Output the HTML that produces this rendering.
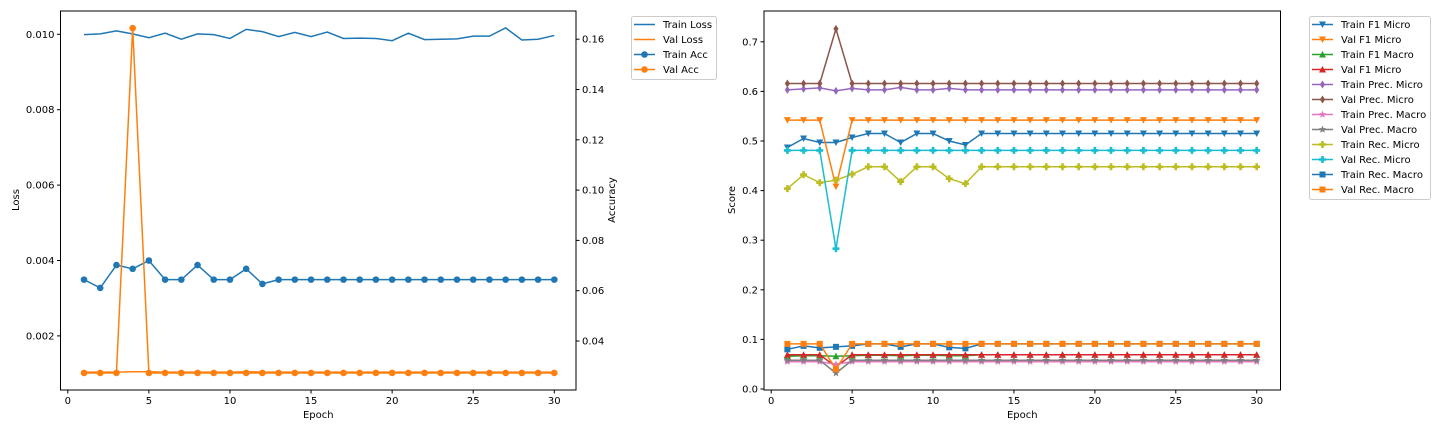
<!DOCTYPE html>
<html><head><meta charset="utf-8"><style>
html,body{margin:0;padding:0;background:#fff;}
svg{display:block;font-family:"DejaVu Sans","Liberation Sans",sans-serif;}
</style></head><body>
<svg id="c" width="1440" height="432" viewBox="0 0 1440 432" xmlns="http://www.w3.org/2000/svg"></svg>
<script>
const epochs=[1,2,3,4,5,6,7,8,9,10,11,12,13,14,15,16,17,18,19,20,21,22,23,24,25,26,27,28,29,30];
const trainLoss=[0.00999,0.01001,0.01009,0.01001,0.00991,0.01003,0.00987,0.01001,0.00999,0.00989,0.01013,0.01007,0.00994,0.01005,0.00994,0.01006,0.00989,0.0099,0.00989,0.00983,0.01003,0.00986,0.00987,0.00988,0.00995,0.00995,0.01017,0.00985,0.00987,0.00997];
const valLoss=[0.00104,0.00104,0.00104,0.00105,0.00105,0.00104,0.00104,0.00104,0.00104,0.00104,0.00105,0.00104,0.00104,0.00104,0.00104,0.00104,0.00104,0.00104,0.00104,0.00104,0.00104,0.00104,0.00104,0.00104,0.00104,0.00104,0.00104,0.00104,0.00104,0.00104];
const trainAcc=[0.0644,0.0611,0.0702,0.0687,0.072,0.0644,0.0644,0.0702,0.0644,0.0644,0.0687,0.0627,0.0644,0.0644,0.0644,0.0644,0.0644,0.0644,0.0644,0.0644,0.0644,0.0644,0.0644,0.0644,0.0644,0.0644,0.0644,0.0644,0.0644,0.0644];
const valAcc=[0.0273,0.0273,0.0273,0.1644,0.0273,0.0273,0.0273,0.0273,0.0273,0.0273,0.0273,0.0273,0.0273,0.0273,0.0273,0.0273,0.0273,0.0273,0.0273,0.0273,0.0273,0.0273,0.0273,0.0273,0.0273,0.0273,0.0273,0.0273,0.0273,0.0273];
const xTicks=[0,5,10,15,20,25,30];
const lossTicks=[0.002,0.004,0.006,0.008,0.010];
const accTicks=[0.04,0.06,0.08,0.10,0.12,0.14,0.16];
const scoreTicks=[0.0,0.1,0.2,0.3,0.4,0.5,0.6,0.7];
function rep(v,n,over){const a=[];for(let i=0;i<n;i++)a.push(v);for(const k in over)a[k-1]=over[k];return a;}
const trainF1Micro=[0.487,0.505,0.497,0.497,0.507,0.515,0.515,0.497,0.515,0.515,0.500,0.492,0.515,0.515,0.515,0.515,0.515,0.515,0.515,0.515,0.515,0.515,0.515,0.515,0.515,0.515,0.515,0.515,0.515,0.515];
const valF1Micro=[0.542,0.542,0.542,0.408,0.542,0.542,0.542,0.542,0.542,0.542,0.542,0.542,0.542,0.542,0.542,0.542,0.542,0.542,0.542,0.542,0.542,0.542,0.542,0.542,0.542,0.542,0.542,0.542,0.542,0.542];
const trainF1Macro=[0.066,0.067,0.067,0.066,0.067,0.068,0.068,0.067,0.068,0.068,0.067,0.067,0.069,0.069,0.069,0.069,0.069,0.069,0.069,0.069,0.069,0.069,0.069,0.069,0.069,0.069,0.069,0.069,0.069,0.069];
const valF1MicroB=[0.069,0.069,0.069,0.045,0.069,0.069,0.069,0.069,0.069,0.069,0.069,0.069,0.069,0.069,0.069,0.069,0.069,0.069,0.069,0.069,0.069,0.069,0.069,0.069,0.069,0.069,0.069,0.069,0.069,0.069];
const trainPrecMicro=[0.603,0.605,0.607,0.601,0.606,0.603,0.603,0.608,0.603,0.603,0.606,0.603,0.603,0.603,0.603,0.603,0.603,0.603,0.603,0.603,0.603,0.603,0.603,0.603,0.603,0.603,0.603,0.603,0.603,0.603];
const valPrecMicro=[0.616,0.616,0.616,0.726,0.616,0.616,0.616,0.616,0.616,0.616,0.616,0.616,0.616,0.616,0.616,0.616,0.616,0.616,0.616,0.616,0.616,0.616,0.616,0.616,0.616,0.616,0.616,0.616,0.616,0.616];
const trainPrecMacro=[0.055,0.055,0.055,0.050,0.055,0.055,0.055,0.055,0.055,0.055,0.055,0.055,0.055,0.055,0.055,0.055,0.055,0.055,0.055,0.055,0.055,0.055,0.055,0.055,0.055,0.055,0.055,0.055,0.055,0.055];
const valPrecMacro=[0.058,0.058,0.058,0.032,0.058,0.058,0.058,0.058,0.058,0.058,0.058,0.058,0.058,0.058,0.058,0.058,0.058,0.058,0.058,0.058,0.058,0.058,0.058,0.058,0.058,0.058,0.058,0.058,0.058,0.058];
const trainRecMicro=[0.404,0.432,0.416,0.421,0.433,0.448,0.448,0.418,0.448,0.448,0.424,0.414,0.448,0.448,0.448,0.448,0.448,0.448,0.448,0.448,0.448,0.448,0.448,0.448,0.448,0.448,0.448,0.448,0.448,0.448];
const valRecMicro=[0.481,0.481,0.481,0.283,0.481,0.481,0.481,0.481,0.481,0.481,0.481,0.481,0.481,0.481,0.481,0.481,0.481,0.481,0.481,0.481,0.481,0.481,0.481,0.481,0.481,0.481,0.481,0.481,0.481,0.481];
const trainRecMacro=[0.080,0.087,0.083,0.085,0.087,0.091,0.091,0.085,0.091,0.091,0.084,0.082,0.091,0.091,0.091,0.091,0.091,0.091,0.091,0.091,0.091,0.091,0.091,0.091,0.091,0.091,0.091,0.091,0.091,0.091];
const valRecMacro=[0.091,0.091,0.091,0.040,0.091,0.091,0.091,0.091,0.091,0.091,0.091,0.091,0.091,0.091,0.091,0.091,0.091,0.091,0.091,0.091,0.091,0.091,0.091,0.091,0.091,0.091,0.091,0.091,0.091,0.091];
const seriesNames=["Train F1 Micro","Val F1 Micro","Train F1 Macro","Val F1 Micro","Train Prec. Micro","Val Prec. Micro","Train Prec. Macro","Val Prec. Macro","Train Rec. Micro","Val Rec. Micro","Train Rec. Macro","Val Rec. Macro"];
const seriesData=[trainF1Micro,valF1Micro,trainF1Macro,valF1MicroB,trainPrecMicro,valPrecMicro,trainPrecMacro,valPrecMacro,trainRecMicro,valRecMicro,trainRecMacro,valRecMacro];

const NS="http://www.w3.org/2000/svg";
const svg=document.getElementById('c');
function mk(tag,attrs,parent){const e=document.createElementNS(NS,tag);for(const k in attrs)e.setAttribute(k,attrs[k]);(parent||svg).appendChild(e);return e;}
function txt(s,attrs,parent){const e=mk('text',attrs,parent);e.textContent=s;return e;}

const colors=["#1f77b4","#ff7f0e","#2ca02c","#d62728","#9467bd","#8c564b","#e377c2","#7f7f7f","#bcbd22","#17becf","#1f77b4","#ff7f0e"];
const markers=["v","v","^","^","d","d","*","*","P","P","s","s"];

function marker(g,type,x,y,c){
  let e;
  const r=3.5;
  if(type==='o') e=mk('circle',{cx:x,cy:y,r:3.3,fill:c},g);
  else if(type==='v') e=mk('polygon',{points:`${x-r},${y-r+0.5} ${x+r},${y-r+0.5} ${x},${y+r}`,fill:c},g);
  else if(type==='^') e=mk('polygon',{points:`${x-r},${y+r-0.5} ${x+r},${y+r-0.5} ${x},${y-r}`,fill:c},g);
  else if(type==='d') e=mk('polygon',{points:`${x},${y-4} ${x+2.6},${y} ${x},${y+4} ${x-2.6},${y}`,fill:c},g);
  else if(type==='s') e=mk('rect',{x:x-3,y:y-3,width:6,height:6,fill:c},g);
  else if(type==='P') e=mk('path',{d:`M${x-1.3},${y-3.5}h2.6v2.2h2.2v2.6h-2.2v2.2h-2.6v-2.2h-2.2v-2.6h2.2z`,fill:c},g);
  else if(type==='*'){let p='';for(let i=0;i<10;i++){const a=-Math.PI/2+i*Math.PI/5;const rr=i%2?1.7:4;p+=(x+rr*Math.cos(a)).toFixed(2)+','+(y+rr*Math.sin(a)).toFixed(2)+' ';}e=mk('polygon',{points:p,fill:c},g);}
  
  
  return e;
}

/* LEFT CHART */
const L={x0:60.5,x1:576,y0:11,y1:390};
const lx=v=>67.8+(v)*(554.3-67.8)/30;
const ly=v=>34.3+(0.010-v)*37700;
const ry=v=>341+(0.04-v)*(50.3/0.02);
const gL=mk('g',{},svg);
function linePath(xs,ys,fx,fy){return xs.map((x,i)=>(i?'L':'M')+fx(x).toFixed(2)+','+fy(ys[i]).toFixed(2)).join('');}
let p;
p=mk('path',{d:linePath(epochs,trainLoss,lx,ly),fill:'none',stroke:'#1f77b4','stroke-width':1.5},gL);
p=mk('path',{d:linePath(epochs,valLoss,lx,ly),fill:'none',stroke:'#ff7f0e','stroke-width':1.5},gL);
p=mk('path',{d:linePath(epochs,trainAcc,lx,ry),fill:'none',stroke:'#1f77b4','stroke-width':1.5},gL);
epochs.forEach((e,i)=>marker(gL,'o',lx(e),ry(trainAcc[i]),'#1f77b4'));
p=mk('path',{d:linePath(epochs,valAcc,lx,ry),fill:'none',stroke:'#ff7f0e','stroke-width':1.5},gL);
epochs.forEach((e,i)=>marker(gL,'o',lx(e),ry(valAcc[i]),'#ff7f0e'));
mk('rect',{x:L.x0,y:L.y0,width:L.x1-L.x0,height:L.y1-L.y0,fill:'none',stroke:'#000','stroke-width':1},gL);
xTicks.forEach(t=>{const x=lx(t);mk('line',{x1:x,y1:L.y1,x2:x,y2:L.y1+3.5,stroke:'#000'},gL);const e=txt(String(t),{x:x,y:L.y1+14,'font-size':10,'text-anchor':'middle'},gL);});
lossTicks.forEach(t=>{const y=ly(t);mk('line',{x1:L.x0,y1:y,x2:L.x0-3.5,y2:y,stroke:'#000'},gL);const e=txt(t.toFixed(3),{x:L.x0-6,y:y+3.5,'font-size':10,'text-anchor':'end'},gL);});
accTicks.forEach(t=>{const y=ry(t);mk('line',{x1:L.x1,y1:y,x2:L.x1+3.5,y2:y,stroke:'#000'},gL);const e=txt(t.toFixed(2),{x:L.x1+6,y:y+3.5,'font-size':10},gL);});
let t;
t=txt('Epoch',{x:(L.x0+L.x1)/2,y:418,'font-size':10,'text-anchor':'middle'},gL);
t=txt('Loss',{x:19,y:200,'font-size':10,'text-anchor':'middle',transform:'rotate(-90 19 200)'},gL);
t=txt('Accuracy',{x:615,y:200,'font-size':10,'text-anchor':'middle',transform:'rotate(-90 615 200)'},gL);
// left legend
const lg=mk('g',{},gL);
mk('rect',{x:631.5,y:16.5,width:85,height:63,rx:2,fill:'#fff',stroke:'#ccc'},lg);
const lgItems=[['Train Loss','#1f77b4',null],['Val Loss','#ff7f0e',null],['Train Acc','#1f77b4','o'],['Val Acc','#ff7f0e','o']];
lgItems.forEach((it,i)=>{const y=24.5+i*15;mk('line',{x1:634,y1:y,x2:655,y2:y,stroke:it[1],'stroke-width':1.5},lg);if(it[2])marker(lg,'o',644.5,y,it[1]);const e=txt(it[0],{x:663,y:y+3.5,'font-size':10},lg);});

/* RIGHT CHART */
const R={x0:764,x1:1280.5,y0:11,y1:390};
const sx=v=>771.2+v*(1256.7-771.2)/30;
const sy=v=>389-v*496;
const gR=mk('g',{},svg);
seriesData.forEach((d,si)=>{
  const g=mk('g',{},gR);
  
  
  mk('path',{d:linePath(epochs,d,sx,sy),fill:'none',stroke:colors[si],'stroke-width':1.5},g);
  epochs.forEach((e,i)=>marker(g,markers[si],sx(e),sy(d[i]),colors[si]));
});
mk('rect',{x:R.x0,y:R.y0,width:R.x1-R.x0,height:R.y1-R.y0,fill:'none',stroke:'#000'},gR);
xTicks.forEach(v=>{const x=sx(v);mk('line',{x1:x,y1:R.y1,x2:x,y2:R.y1+3.5,stroke:'#000'},gR);const e=txt(String(v),{x:x,y:R.y1+14,'font-size':10,'text-anchor':'middle'},gR);});
scoreTicks.forEach(v=>{const y=sy(v);mk('line',{x1:R.x0,y1:y,x2:R.x0-3.5,y2:y,stroke:'#000'},gR);const e=txt(v.toFixed(1),{x:R.x0-6,y:y+3.5,'font-size':10,'text-anchor':'end'},gR);});
t=txt('Epoch',{x:(R.x0+R.x1)/2,y:418,'font-size':10,'text-anchor':'middle'},gR);
t=txt('Score',{x:735,y:200,'font-size':10,'text-anchor':'middle',transform:'rotate(-90 735 200)'},gR);
const rg=mk('g',{},gR);
mk('rect',{x:1309.5,y:16.5,width:121,height:183,rx:2,fill:'#fff',stroke:'#ccc'},rg);
seriesNames.forEach((n,i)=>{const y=24.5+i*15;mk('line',{x1:1312,y1:y,x2:1333,y2:y,stroke:colors[i],'stroke-width':1.5},rg);marker(rg,markers[i],1322.5,y,colors[i]);const e=txt(n,{x:1341,y:y+3.5,'font-size':10},rg);});
</script>
</body></html>
